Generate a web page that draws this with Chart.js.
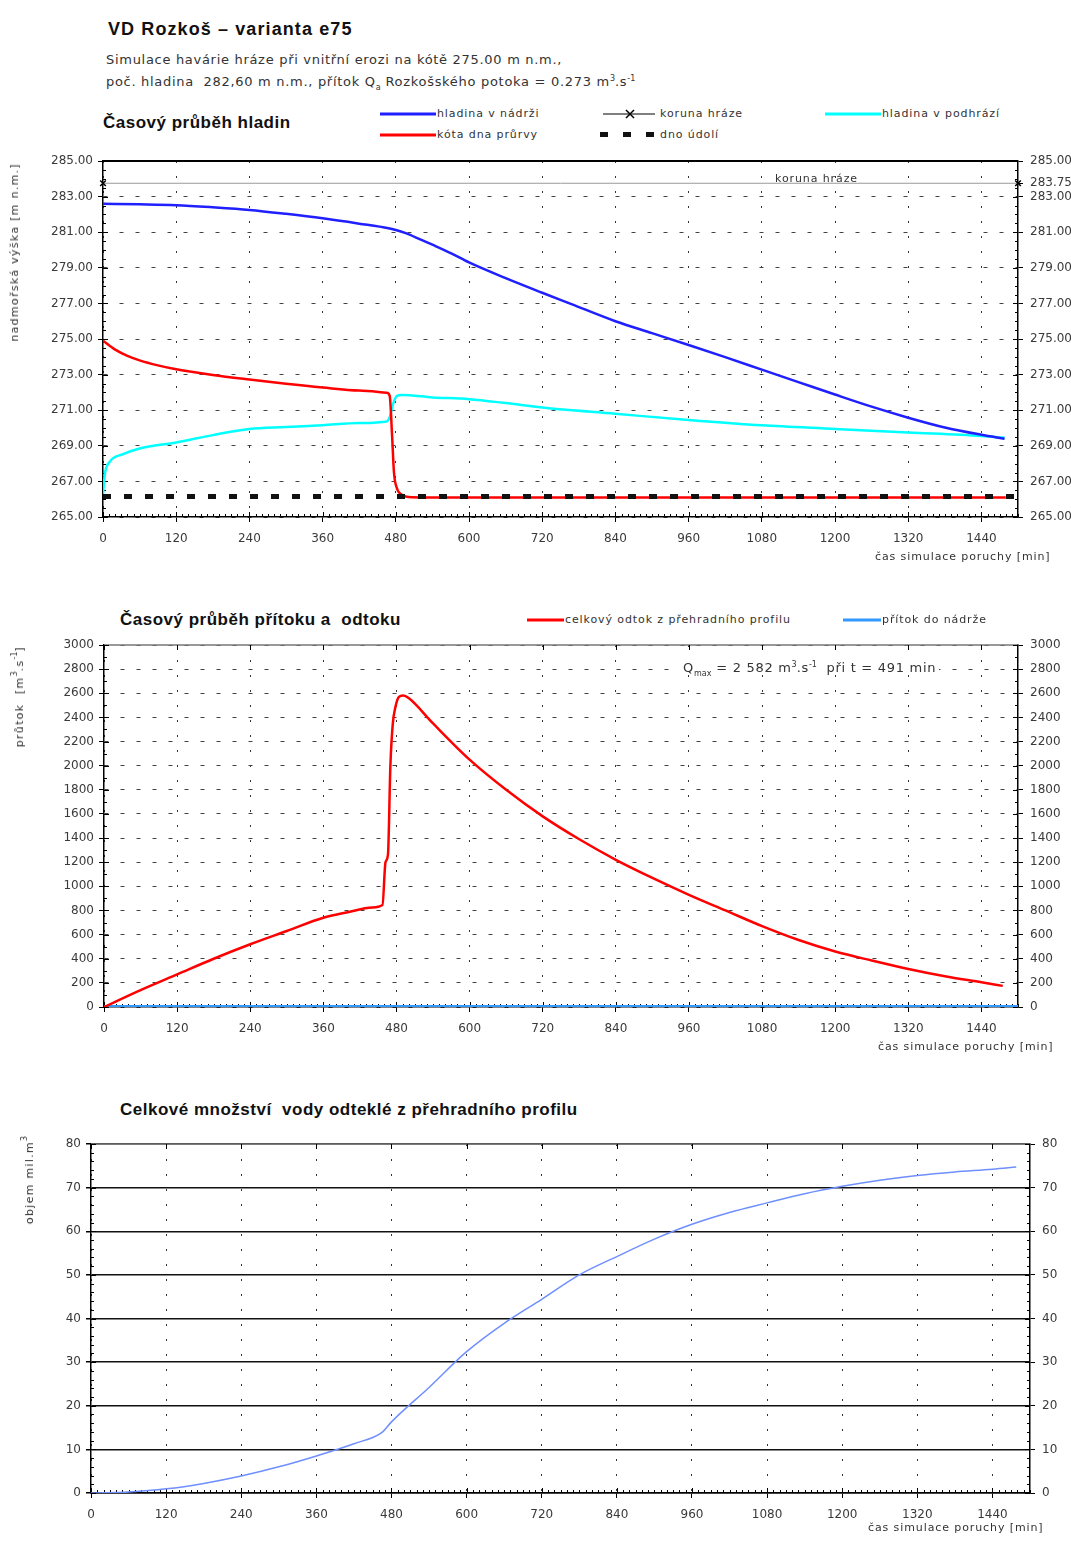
<!DOCTYPE html>
<html>
<head>
<meta charset="utf-8">
<script src="https://cdn.jsdelivr.net/npm/chart.js@4.4.1/dist/chart.umd.min.js"></script>
<style>
  body { margin:0; width:1071px; height:1545px; background:#fff; position:relative; overflow:hidden;
         font-family:"DejaVu Sans", sans-serif; color:#333; }
  .t { position:absolute; white-space:pre; line-height:1; }
  .h1 { font:bold 18px "Liberation Sans", sans-serif; color:#111; letter-spacing:1.1px; }
  .h2 { font:bold 17px "Liberation Sans", sans-serif; color:#111; letter-spacing:0.5px; }
  .sub { font-size:13px; color:#333; letter-spacing:0.7px; }
  .lg { font-size:11px; color:#333; letter-spacing:0.9px; }
  .ax { font-size:11px; color:#333; letter-spacing:0.9px; }
  .vt { writing-mode:vertical-rl; transform:rotate(180deg); letter-spacing:1.3px; }
  .box { position:absolute; }
  .bg { background:#fff; }
  sub, sup { font-size:8px; line-height:0; letter-spacing:0; }
  svg { position:absolute; overflow:visible; }
</style>
</head>
<body>

<div class="t h1" style="left:108px;top:19px">VD Rozkoš – varianta e75</div>
<div class="t sub" style="left:106px;top:53px">Simulace havárie hráze při vnitřní erozi na kótě 275.00 m n.m.,</div>
<div class="t sub" style="left:106px;top:75px">poč. hladina  282,60 m n.m., přítok Q<sub>a</sub> Rozkošského potoka = 0.273 m<sup>3</sup>.s<sup>-1</sup></div>

<!-- graf 1 -->
<div class="t h2" style="left:103px;top:113px">Časový průběh hladin</div>
<svg style="left:380px;top:109px" width="56" height="10"><line x1="0" y1="5" x2="56" y2="5" stroke="#1f1fff" stroke-width="3"/></svg>
<div class="t lg" style="left:437px;top:108px">hladina v nádrži</div>
<svg style="left:380px;top:130px" width="56" height="10"><line x1="0" y1="5" x2="56" y2="5" stroke="#ff0000" stroke-width="3"/></svg>
<div class="t lg" style="left:437px;top:129px">kóta dna průrvy</div>
<svg style="left:603px;top:109px" width="52" height="10"><line x1="0" y1="5" x2="52" y2="5" stroke="#000" stroke-width="1"/><path d="M23 1 L31 9 M31 1 L23 9" stroke="#000" stroke-width="1.5"/></svg>
<div class="t lg" style="left:660px;top:108px">koruna hráze</div>
<svg style="left:600px;top:130px" width="56" height="10"><rect x="0" y="2" width="8" height="5" fill="#111"/><rect x="23" y="2" width="8" height="5" fill="#111"/><rect x="46" y="2" width="8" height="5" fill="#111"/></svg>
<div class="t lg" style="left:660px;top:129px">dno údolí</div>
<svg style="left:825px;top:109px" width="56" height="10"><line x1="0" y1="5" x2="56" y2="5" stroke="#00ffff" stroke-width="3"/></svg>
<div class="t lg" style="left:882px;top:108px">hladina v podhrází</div>

<div class="box" style="left:0;top:150px;width:1071px;height:420px"><canvas id="c1"></canvas></div>
<div class="t ax vt" style="left:9px;top:163px">nadmořská výška [m n.m.]</div>
<div class="t lg" style="left:775px;top:173px">koruna hráze</div>
<div class="t ax" style="left:875px;top:551px">čas simulace poruchy [min]</div>

<!-- graf 2 -->
<div class="t h2" style="left:120px;top:610px">Časový průběh přítoku a  odtoku</div>
<svg style="left:527px;top:615px" width="37" height="10"><line x1="0" y1="5" x2="37" y2="5" stroke="#ff0000" stroke-width="3"/></svg>
<div class="t lg" style="left:565px;top:614px">celkový odtok z přehradního profilu</div>
<svg style="left:843px;top:615px" width="38" height="10"><line x1="0" y1="5" x2="38" y2="5" stroke="#3399ff" stroke-width="3"/></svg>
<div class="t lg" style="left:882px;top:614px">přítok do nádrže</div>

<div class="box" style="left:0;top:635px;width:1071px;height:435px"><canvas id="c2"></canvas></div>
<div class="t ax vt" style="left:14px;top:646px">průtok  [m<sup>3</sup>.s<sup>-1</sup>]</div>
<div class="t sub bg" style="left:680px;top:660px;padding:1px 3px">Q<sub>max</sub> = 2 582 m<sup>3</sup>.s<sup>-1</sup>  při t = 491 min</div>
<div class="t ax" style="left:878px;top:1041px">čas simulace poruchy [min]</div>

<!-- graf 3 -->
<div class="t h2" style="left:120px;top:1100px">Celkové množství  vody odteklé z přehradního profilu</div>
<div class="box" style="left:0;top:1135px;width:1071px;height:410px"><canvas id="c3"></canvas></div>
<div class="t ax vt" style="left:24px;top:1136px">objem mil.m<sup>3</sup></div>
<div class="t ax" style="left:868px;top:1522px">čas simulace poruchy [min]</div>

<script>
// ═══ DATA ═══
const xTickValues = [0, 120, 240, 360, 480, 600, 720, 840, 960, 1080, 1200, 1320, 1440];
const levelTicksLeft = [265, 267, 269, 271, 273, 275, 277, 279, 281, 283, 285];
const levelTicksRight = [265, 267, 269, 271, 273, 275, 277, 279, 281, 283, 283.75, 285];
const flowTicks = [0, 200, 400, 600, 800, 1000, 1200, 1400, 1600, 1800, 2000, 2200, 2400, 2600, 2800, 3000];
const volumeTicks = [0, 10, 20, 30, 40, 50, 60, 70, 80];

// hladina v nádrži [m n.m.]
const tReservoir = [0, 60, 120, 180, 240, 300, 360, 420, 468, 480, 495, 520, 540, 570, 600, 660, 720, 768, 840, 900, 960, 1020, 1080, 1140, 1200, 1260, 1320, 1380, 1440, 1478];
const hReservoir = [282.60, 282.57, 282.52, 282.40, 282.25, 282.03, 281.78, 281.48, 281.22, 281.12, 280.96, 280.60, 280.30, 279.83, 279.30, 278.42, 277.60, 276.96, 276.00, 275.33, 274.66, 273.98, 273.28, 272.58, 271.88, 271.20, 270.58, 270.03, 269.62, 269.40];

// kóta dna průrvy [m n.m.]
const tBreach = [0, 20, 40, 60, 90, 120, 180, 240, 300, 360, 420, 465, 470, 474, 477, 482, 488, 496, 520, 1480];
const hBreach = [274.90, 274.40, 274.05, 273.80, 273.52, 273.30, 272.98, 272.72, 272.48, 272.27, 272.10, 271.98, 271.80, 269.50, 267.50, 266.60, 266.30, 266.15, 266.10, 266.10];

// hladina v podhrází [m n.m.]
const tTailwater = [0, 3, 11, 33, 60, 120, 180, 240, 300, 360, 420, 465, 470, 476, 482, 490, 540, 600, 660, 720, 840, 960, 1080, 1200, 1320, 1440, 1478];
const hTailwater = [266.30, 267.40, 268.10, 268.53, 268.85, 269.19, 269.60, 269.94, 270.05, 270.16, 270.28, 270.37, 270.60, 271.40, 271.81, 271.85, 271.72, 271.62, 271.40, 271.15, 270.80, 270.45, 270.15, 269.95, 269.75, 269.55, 269.45];

const crestLevel = 283.75;   // koruna hráze
const valleyLevel = 266.15;  // dno údolí
const tSpan = [0, 1500];

// celkový odtok z přehradního profilu [m3/s]
const tOutflow = [0, 60, 120, 180, 240, 300, 360, 400, 440, 457, 462, 466, 470, 474, 478, 484, 491, 500, 540, 600, 660, 720, 780, 840, 900, 960, 1020, 1080, 1140, 1200, 1260, 1320, 1380, 1440, 1475];
const qOutflow = [0, 140, 270, 400, 520, 630, 740, 785, 825, 845, 1200, 1260, 2000, 2350, 2480, 2570, 2582, 2560, 2350, 2050, 1800, 1580, 1390, 1220, 1070, 930, 800, 670, 555, 460, 385, 315, 255, 205, 175];
const qInflow = 0.273;

// objem [mil. m3]
const tVolume = [0, 60, 120, 180, 240, 300, 360, 420, 465, 480, 540, 600, 660, 720, 780, 840, 900, 960, 1020, 1080, 1140, 1200, 1260, 1320, 1380, 1440, 1478];
const vVolume = [0, 0.25, 0.95, 2.2, 3.9, 6.0, 8.5, 11.3, 13.9, 16.3, 24.2, 32.4, 38.9, 44.4, 50.0, 54.2, 58.2, 61.6, 64.3, 66.5, 68.6, 70.3, 71.7, 72.8, 73.6, 74.2, 74.7];

// ═══ HELPERS ═══
const pts = (xs, ys) => xs.map((x, i) => ({ x: x, y: ys[i] }));
const flat = (xs, y) => xs.map(x => ({ x: x, y: y }));

Chart.defaults.font.family = '"DejaVu Sans", sans-serif';
Chart.defaults.font.size = 12;
Chart.defaults.color = '#3a3a3a';

// frame + minor ticks pointing into the plot
const frameTicks = {
  id: 'frameTicks',
  beforeDatasetsDraw(chart, args, o) {
    const { ctx, chartArea: a, scales } = chart;
    ctx.save();
    ctx.strokeStyle = o.topColor || '#000';
    ctx.lineWidth = o.topWidth || 1;
    ctx.beginPath(); ctx.moveTo(a.left, a.top); ctx.lineTo(a.right, a.top); ctx.stroke();
    ctx.strokeStyle = '#000';
    ctx.lineWidth = 1;
    (o.marks || []).forEach(m => {
      const s = scales[m.scale];
      const n = Math.floor((s.max - s.min) / m.step + 1e-6);
      for (let i = 0; i <= n; i++) {
        const v = s.min + i * m.step;
        const p = Math.round(s.getPixelForValue(v)) + 0.5;
        const len = (i % m.every === 0) ? 5 : 3;
        ctx.beginPath();
        if (m.side === 'left') { ctx.moveTo(a.left, p); ctx.lineTo(a.left + len, p); }
        if (m.side === 'right') { ctx.moveTo(a.right, p); ctx.lineTo(a.right - len, p); }
        if (m.side === 'bottom') { ctx.moveTo(p, a.bottom); ctx.lineTo(p, a.bottom - len); }
        if (m.side === 'top') { ctx.moveTo(p, a.top); ctx.lineTo(p, a.top + len); }
        ctx.stroke();
      }
    });
    ctx.restore();
  }
};

function xAxis(height) {
  return {
    type: 'linear', min: 0, max: 1500,
    afterBuildTicks: s => { s.ticks = xTickValues.map(v => ({ value: v })); },
    afterFit: s => { s.height = height; s.paddingLeft = 0; s.paddingRight = 0; },
    grid: { color: '#333', lineWidth: 1, tickLength: 5, tickColor: '#000' },
    border: { color: '#000', width: 1.5, dash: [2, 13] },
    ticks: { autoSkip: false, maxRotation: 0, padding: 10, callback: v => String(v) }
  };
}

function yAxis(pos, width, min, max, values, fmt, gridOpts, dash) {
  return {
    type: 'linear', position: pos, min: min, max: max,
    afterBuildTicks: s => { s.ticks = values.map(v => ({ value: v })); },
    afterFit: s => { s.width = width; s.paddingTop = 0; s.paddingBottom = 0; },
    grid: Object.assign({ tickLength: 5, tickColor: '#000', drawOnChartArea: pos === 'left' }, gridOpts),
    border: { color: '#000', width: 1.5, dash: dash },
    ticks: { autoSkip: false, padding: pos === 'left' ? 5 : 7, callback: fmt }
  };
}

const common = {
  responsive: true,
  maintainAspectRatio: false,
  animation: false,
  elements: { point: { radius: 0 }, line: { tension: 0, cubicInterpolationMode: 'monotone' } },
  plugins: { legend: { display: false }, tooltip: { enabled: false } }
};

// ═══ GRAF 1 – hladiny ═══
new Chart(document.getElementById('c1'), {
  type: 'line',
  data: {
    datasets: [
      { label: 'dno údolí', data: flat(tSpan, valleyLevel), borderColor: '#111', borderWidth: 5, borderDash: [8, 13], borderCapStyle: 'butt', cubicInterpolationMode: 'default' },
      { label: 'koruna hráze', data: flat(tSpan, crestLevel), borderColor: '#999', borderWidth: 1, cubicInterpolationMode: 'default',
        pointRadius: 4, pointStyle: 'crossRot', pointBorderColor: '#000', pointBorderWidth: 1.5, clip: false },
      { label: 'hladina v nádrži', data: pts(tReservoir, hReservoir), borderColor: '#1f1fff', borderWidth: 2.5 },
      { label: 'kóta dna průrvy', data: pts(tBreach, hBreach), borderColor: '#ff0000', borderWidth: 2.5 },
      { label: 'hladina v podhrází', data: pts(tTailwater, hTailwater), borderColor: '#00ffff', borderWidth: 2.5 }
    ]
  },
  options: Object.assign({}, common, {
    layout: { padding: { top: 11, bottom: 23, left: 0, right: 0 } },
    scales: {
      x: xAxis(30),
      y: yAxis('left', 103, 265, 285, levelTicksLeft, v => v.toFixed(2), { color: '#444', lineWidth: 1 }, [4, 12]),
      y2: yAxis('right', 53, 265, 285, levelTicksRight, v => v.toFixed(2), {}, [])
    },
    plugins: Object.assign({}, common.plugins, {
      frameTicks: { topColor: '#000', topWidth: 2, marks: [
        { scale: 'y', side: 'left', step: 0.5, every: 4 },
        { scale: 'y', side: 'right', step: 0.5, every: 4 },
        { scale: 'x', side: 'bottom', step: 10, every: 12 }
      ] }
    })
  }),
  plugins: [frameTicks]
});

// ═══ GRAF 2 – průtoky ═══
new Chart(document.getElementById('c2'), {
  type: 'line',
  data: {
    datasets: [
      { label: 'celkový odtok z přehradního profilu', data: pts(tOutflow, qOutflow), borderColor: '#ff0000', borderWidth: 2.5 },
      { label: 'přítok do nádrže', data: flat(tSpan, qInflow), borderColor: '#3399ff', borderWidth: 4, cubicInterpolationMode: 'default' }
    ]
  },
  options: Object.assign({}, common, {
    layout: { padding: { top: 10, bottom: 33, left: 0, right: 0 } },
    scales: {
      x: xAxis(30),
      y: yAxis('left', 104, 0, 3000, flowTicks, v => String(v), { color: '#444', lineWidth: 1 }, [4, 12]),
      y2: yAxis('right', 53, 0, 3000, flowTicks, v => String(v), {}, [])
    },
    plugins: Object.assign({}, common.plugins, {
      frameTicks: { topColor: '#777', topWidth: 1.5, marks: [
        { scale: 'y', side: 'left', step: 100, every: 2 },
        { scale: 'y', side: 'right', step: 100, every: 2 },
        { scale: 'x', side: 'top', step: 120, every: 1 },
        { scale: 'x', side: 'bottom', step: 10, every: 12 }
      ] }
    })
  }),
  plugins: [frameTicks]
});

// ═══ GRAF 3 – objem ═══
new Chart(document.getElementById('c3'), {
  type: 'line',
  data: {
    datasets: [
      { label: 'objem', data: pts(tVolume, vVolume), borderColor: '#6f8fff', borderWidth: 1.5 }
    ]
  },
  options: Object.assign({}, common, {
    layout: { padding: { top: 9, bottom: 22, left: 0, right: 0 } },
    scales: {
      x: xAxis(30),
      y: yAxis('left', 91, 0, 80, volumeTicks, v => String(v), { color: '#111', lineWidth: 1.5 }, []),
      y2: yAxis('right', 41, 0, 80, volumeTicks, v => String(v), {}, [])
    },
    plugins: Object.assign({}, common.plugins, {
      frameTicks: { topColor: '#777', topWidth: 1.5, marks: [
        { scale: 'y', side: 'left', step: 2, every: 5 },
        { scale: 'y', side: 'right', step: 2, every: 5 },
        { scale: 'x', side: 'top', step: 120, every: 1 },
        { scale: 'x', side: 'bottom', step: 10, every: 12 }
      ] }
    })
  }),
  plugins: [frameTicks]
});
</script>
</body>
</html>
